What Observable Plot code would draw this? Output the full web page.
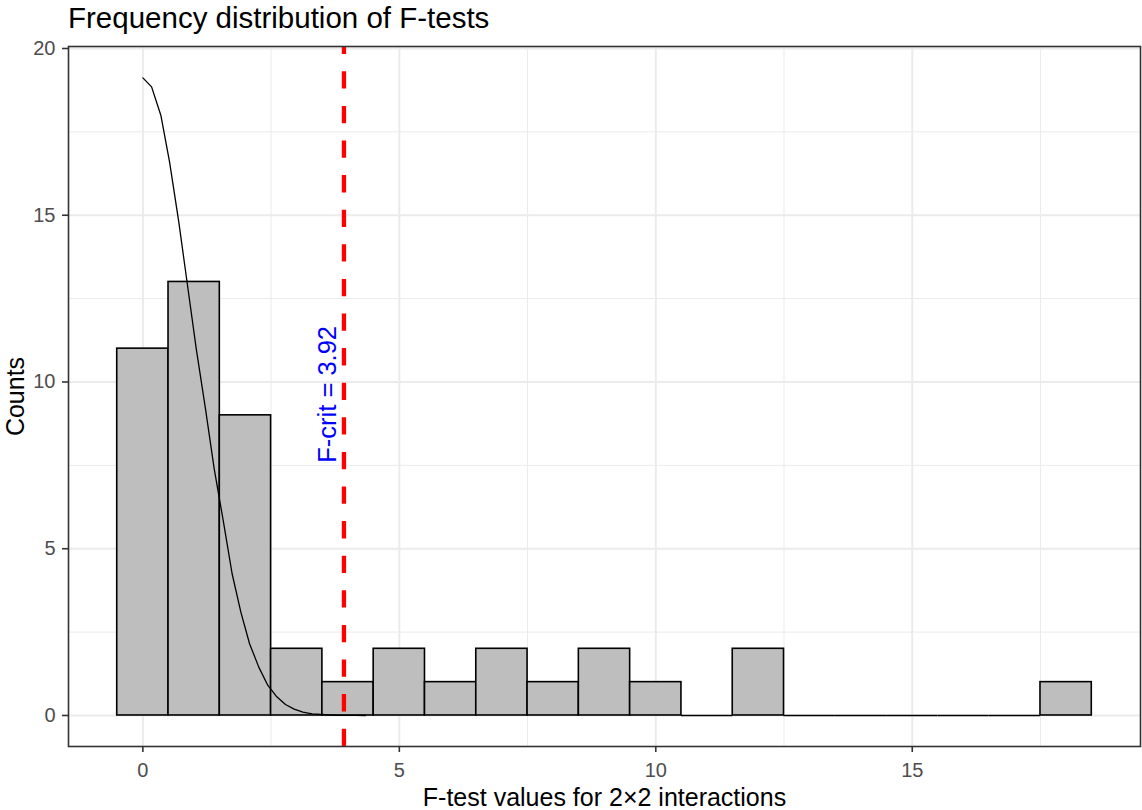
<!DOCTYPE html>
<html>
<head>
<meta charset="utf-8">
<script src="https://cdn.jsdelivr.net/npm/d3@7"></script>
<script src="https://cdn.jsdelivr.net/npm/@observablehq/plot@0.6"></script>
<style>
  body { margin: 0; background: white; font-family: "Liberation Sans", Arial, sans-serif; }
  #title { height: 40px; line-height: 35.6px; font-size: 29.5px; padding-left: 68px; color: black; white-space: nowrap; }
</style>
</head>
<body>
<div id="title">Frequency distribution of F-tests</div>
<div id="chart"></div>
<script>
// ---- data ----
const binCenters = [0, 1, 2, 3, 4, 5, 6, 7, 8, 9, 10, 11, 12, 13, 14, 15, 16, 17, 18];
const counts     = [11, 13, 9, 2, 1, 2, 1, 2, 1, 2, 1, 0, 2, 0, 0, 0, 0, 0, 1];
const curveX = [0, 0.17, 0.35, 0.52, 0.70, 0.87, 1.04, 1.22, 1.39, 1.56, 1.74, 1.91, 2.08, 2.26, 2.43, 2.60, 2.78, 2.95, 3.12, 3.30, 3.47, 3.64, 3.82, 3.99, 4.16, 4.34];
const curveY = [19.12, 18.85, 18.0, 16.6, 14.8, 12.9, 11.0, 9.2, 7.4, 5.9, 4.25, 3.1, 2.15, 1.45, 0.92, 0.58, 0.33, 0.19, 0.1, 0.05, 0.03, 0.015, 0.006, 0.002, 0.001, 0];
const fCrit = 3.92;
const fCritLabel = "F-crit = 3.92";
const labelPos = {x: 3.61, y: 9.63};
const xTicks = [0, 5, 10, 15];
const xMinor = [2.5, 7.5, 12.5, 17.5];
const yTicks = [0, 5, 10, 15, 20];
const yMinor = [2.5, 7.5, 12.5, 17.5];
const xTitle = "F-test values for 2×2 interactions";
const yTitle = "Counts";
const xDomain = [-1.45, 19.45];
const yDomain = [-0.93, 20.06];

// ---- derived tables ----
const bins = binCenters.map((c, i) => ({x1: c - 0.5, x2: c + 0.5, n: counts[i]}));
const filled = bins.filter(d => d.n > 0);
const empty = bins.filter(d => d.n === 0);
const curve = curveX.map((x, i) => ({x, y: curveY[i]}));

const chart = Plot.plot({
  width: 1142,
  height: 770,
  marginLeft: 68,
  marginRight: 2,
  marginTop: 6,
  marginBottom: 64,
  style: {fontFamily: '"Liberation Sans", Arial, sans-serif', background: "white", overflow: "visible"},
  x: {domain: xDomain},
  y: {domain: yDomain},
  marks: [
    Plot.ruleX(xMinor, {stroke: "#ebebeb", strokeWidth: 1}),
    Plot.ruleY(yMinor, {stroke: "#ebebeb", strokeWidth: 1}),
    Plot.ruleX(xTicks, {stroke: "#ebebeb", strokeWidth: 2}),
    Plot.ruleY(yTicks, {stroke: "#ebebeb", strokeWidth: 2}),
    Plot.rectY(filled, {x1: "x1", x2: "x2", y1: 0, y2: "n", fill: "#bebebe", stroke: "black", strokeWidth: 1.6}),
    Plot.ruleY(empty, {x1: "x1", x2: "x2", y: 0, stroke: "black", strokeWidth: 1.6}),
    Plot.line(curve, {x: "x", y: "y", stroke: "black", strokeWidth: 1.3}),
    Plot.ruleX([fCrit], {x: d => d, y1: yDomain[0], y2: yDomain[1], stroke: "#ff0000", strokeWidth: 4.3, strokeDasharray: "17.3 17.3"}),
    Plot.text([fCritLabel], {x: labelPos.x, y: labelPos.y, text: d => d, rotate: -90, fontSize: 25.5, fill: "#0000ff", textAnchor: "middle", lineAnchor: "middle"}),
    Plot.frame({stroke: "#333333", strokeWidth: 1.6}),
    Plot.axisX({ticks: xTicks, tickSize: 6, tickPadding: 10, fontSize: 20, stroke: "#333333", fill: "#4d4d4d", strokeWidth: 1.6, label: null}),
    Plot.axisY({ticks: yTicks, tickSize: 6, tickPadding: 7, fontSize: 20, stroke: "#333333", fill: "#4d4d4d", strokeWidth: 1.6, label: null}),
    Plot.text([xTitle], {frameAnchor: "bottom", text: d => d, dy: 51, fontSize: 25, fill: "black", textAnchor: "middle", lineAnchor: "middle"}),
    Plot.text([yTitle], {frameAnchor: "left", text: d => d, dx: -53, rotate: -90, fontSize: 25, fill: "black", textAnchor: "middle", lineAnchor: "middle"})
  ]
});
document.getElementById("chart").appendChild(chart);
</script>
</body>
</html>
